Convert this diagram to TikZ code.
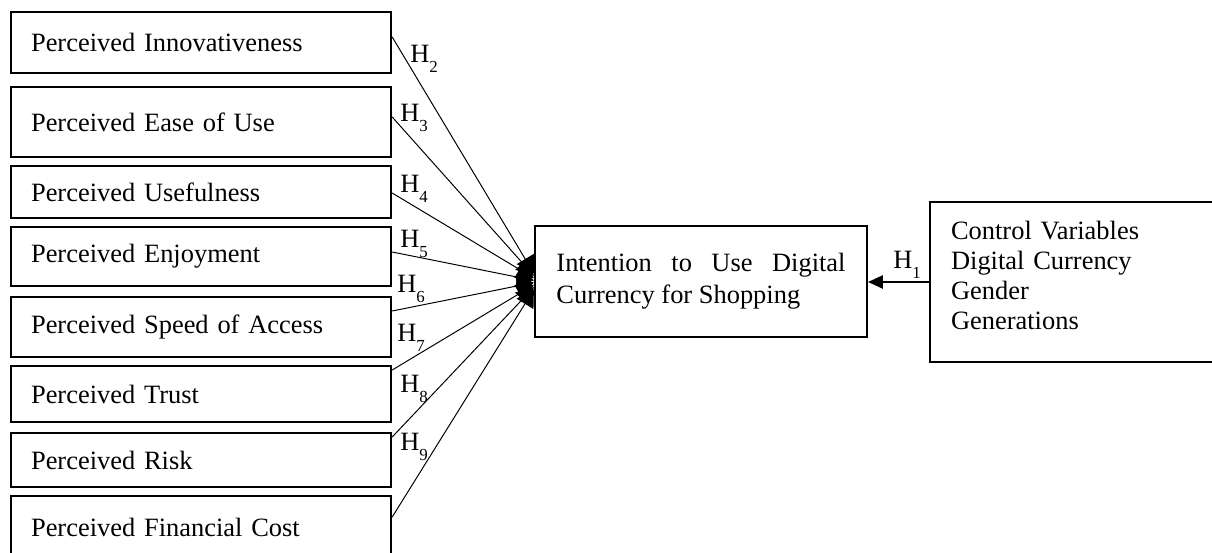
\documentclass[tikz,border=0pt]{standalone}
\usepackage{fontspec}
\setmainfont{Liberation Serif}
\usetikzlibrary{arrows.meta, calc}

\newcommand{\hyp}[1]{H\raisebox{-7.5pt}{\fontsize{12}{12}\selectfont #1}}

\begin{document}
\begin{tikzpicture}[
  x=0.025cm, y=-0.025cm,
  font=\fontsize{18.8}{22.8}\selectfont,
  factor/.style={draw, line width=1.5pt, anchor=west, inner xsep=0.5cm, text width=8.5cm, align=left},
  target/.style={draw, line width=1.5pt, inner xsep=0.5375cm, text width=7.225cm, align=justify, minimum height=2.775cm},
  control/.style={draw, line width=1.5pt, anchor=west, inner xsep=0.525cm, text width=9cm, align=left, minimum height=4cm, font=\fontsize{18.8}{21.3}\selectfont},
  link/.style={-{Triangle[length=12pt, width=14pt]}, line width=0.7pt},
  effect/.style={-{Triangle[length=10.5pt, width=9.5pt]}, line width=0.8pt},
  hlabel/.style={anchor=base west, inner sep=0pt}
]
\useasboundingbox (0,0) rectangle (1212,553);
\clip (0,0) rectangle (1212,553);

\node[factor, minimum height=1.525cm] (innov) at (10,42.5) {Perceived Innovativeness};
\node[factor, minimum height=1.75cm] (ease) at (10,122) {Perceived Ease of Use};
\node[factor, minimum height=1.3cm] (useful) at (10,192) {Perceived Usefulness};
\node[factor, minimum height=1.475cm] (enjoy) at (10,256.5) {Perceived Enjoyment};
\node[factor, minimum height=1.5cm] (speed) at (10,327) {Perceived Speed of Access};
\node[factor, minimum height=1.4cm] (trust) at (10,394) {Perceived Trust};
\node[factor, minimum height=1.35cm] (risk) at (10,460) {Perceived Risk};
\node[factor, minimum height=1.55cm] (cost) at (10,527) {Perceived Financial Cost};

\node[target] (intent) at (701,281.5) {Intention to Use Digital\linebreak Currency for Shopping};
\node[control] (controls) at (929,282) {Control Variables\\Digital Currency\\Gender\\Generations\rule[-9pt]{0pt}{0pt}};

\draw[link] ($(innov.east)+(0,-5.5)$) -- ($(intent.west)+(0,-8)$);
\draw[link] ($(ease.east)+(0,-5)$) -- ($(intent.west)+(0,-5.7)$);
\draw[link] ($(useful.east)+(0,1)$) -- ($(intent.west)+(0,-3.4)$);
\draw[link] ($(enjoy.east)+(0,-4.5)$) -- ($(intent.west)+(0,-1.1)$);
\draw[link] ($(speed.east)+(0,-16)$) -- ($(intent.west)+(0,1.1)$);
\draw[link] ($(trust.east)+(0,-24)$) -- ($(intent.west)+(0,3.4)$);
\draw[link] ($(risk.east)+(0,-23)$) -- ($(intent.west)+(0,5.7)$);
\draw[link] ($(cost.east)+(0,-10)$) -- ($(intent.west)+(0,8)$);
\draw[effect] (controls.west) -- (controls.west -| intent.east);

\node[hlabel] (h2) at (410,62) {\hyp{2}};
\node[hlabel] (h3) at (400,121) {\hyp{3}};
\node[hlabel] (h4) at (400,192) {\hyp{4}};
\node[hlabel] (h5) at (400,247) {\hyp{5}};
\node[hlabel] (h6) at (397,292) {\hyp{6}};
\node[hlabel] (h7) at (397,341) {\hyp{7}};
\node[hlabel] (h8) at (400,392) {\hyp{8}};
\node[hlabel] (h9) at (400,450) {\hyp{9}};
\node[hlabel] (h1) at (893,268) {\hyp{1}};
\end{tikzpicture}
\end{document}
